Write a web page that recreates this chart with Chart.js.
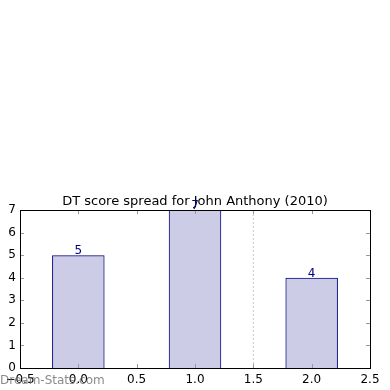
<!DOCTYPE html>
<html>
<head>
<meta charset="utf-8">
<title>DT score spread</title>
<script src="https://cdn.jsdelivr.net/npm/chart.js@4/dist/chart.umd.min.js"></script>
<style>
  html, body { margin: 0; padding: 0; background: #fff; }
  #wrap { width: 390px; height: 390px; }
</style>
</head>
<body>
<div id="wrap"><canvas id="grafica" width="390" height="390"></canvas></div>
<script>
// datos
const posiciones = [0, 1, 2];
const conteos = [5, 7, 4];
const lineaCorte = 1.5;
const titulo = "DT score spread for John Anthony (2010)";
const marcaAgua = "Dream-Stats.com";

const xMin = -0.5, xMax = 2.5, xPaso = 0.5;
const yMin = 0, yMax = 7, yPaso = 1;

const navy = "#000080";
const fuente = "'DejaVu Sans', sans-serif";

// titulo, marco, ticks hacia dentro, etiquetas de valor y marca de agua
const extras = {
  id: "extras",
  afterDraw(chart) {
    const ctx = chart.ctx;
    const a = chart.chartArea;
    const sx = chart.scales.x;
    const sy = chart.scales.y;
    ctx.save();

    // ticks hacia dentro
    ctx.strokeStyle = "#999";
    ctx.lineWidth = 1;
    ctx.beginPath();
    sx.ticks.forEach((t) => {
      const px = Math.round(sx.getPixelForValue(t.value)) + 0.5;
      ctx.moveTo(px, a.bottom);
      ctx.lineTo(px, a.bottom - 4);
      ctx.moveTo(px, a.top);
      ctx.lineTo(px, a.top + 4);
    });
    sy.ticks.forEach((t) => {
      const py = Math.round(sy.getPixelForValue(t.value)) + 0.5;
      ctx.moveTo(a.left, py);
      ctx.lineTo(a.left + 4, py);
      ctx.moveTo(a.right, py);
      ctx.lineTo(a.right - 4, py);
    });
    ctx.stroke();

    // marco
    ctx.strokeStyle = "#000";
    ctx.strokeRect(Math.round(a.left) + 0.5, Math.round(a.top) + 0.5,
      Math.round(a.right - a.left), Math.round(a.bottom - a.top));

    // titulo centrado sobre el area del grafico
    ctx.fillStyle = "#000";
    ctx.font = "13px " + fuente;
    ctx.textAlign = "center";
    ctx.textBaseline = "alphabetic";
    ctx.fillText(titulo, (a.left + a.right) / 2, a.top - 5);

    // etiquetas encima de las barras
    const meta = chart.getDatasetMeta(0);
    ctx.fillStyle = navy;
    ctx.font = "12px " + fuente;
    meta.data.forEach((bar, i) => {
      ctx.fillText(String(conteos[i]), bar.x, bar.y - 1);
    });

    // marca de agua
    ctx.fillStyle = "rgba(110,110,110,0.8)";
    ctx.font = "12px " + fuente;
    ctx.textAlign = "left";
    ctx.textBaseline = "middle";
    ctx.fillText(marcaAgua, 0, 381);

    ctx.restore();
  },
};

const ctx = document.getElementById("grafica").getContext("2d");

new Chart(ctx, {
  type: "bar",
  data: {
    datasets: [
      {
        type: "bar",
        data: posiciones.map((p, i) => ({ x: p, y: conteos[i] })),
        backgroundColor: "rgba(0,0,128,0.2)",
        borderColor: navy,
        borderWidth: 1,
        barPercentage: 0.9,
        categoryPercentage: 1,
      },
      {
        type: "line",
        data: [
          { x: lineaCorte, y: yMin },
          { x: lineaCorte, y: yMax },
        ],
        borderColor: "#c8c8c8",
        borderWidth: 1,
        borderDash: [2, 2],
        pointRadius: 0,
        fill: false,
      },
    ],
  },
  options: {
    responsive: false,
    animation: false,
    devicePixelRatio: 1,
    layout: { padding: { left: 0, right: 20, top: 210, bottom: 0 } },
    plugins: {
      legend: { display: false },
      tooltip: { enabled: false },
      title: { display: false },
    },
    scales: {
      x: {
        type: "linear",
        min: xMin,
        max: xMax,
        offset: false,
        grid: { display: false, drawTicks: false, offset: false },
        border: { display: false },
        afterFit: (scale) => {
          scale.height = 22;
        },
        ticks: {
          stepSize: xPaso,
          autoSkip: false,
          maxRotation: 0,
          padding: 5,
          color: "#000",
          font: { family: fuente, size: 12 },
          callback: (v) => v.toFixed(1).replace("-", "\u2212"),
        },
      },
      y: {
        min: yMin,
        max: yMax,
        grid: { display: false, drawTicks: false },
        border: { display: false },
        afterFit: (scale) => {
          scale.width = 20;
        },
        ticks: {
          stepSize: yPaso,
          padding: 4,
          color: "#000",
          font: { family: fuente, size: 12 },
        },
      },
    },
  },
  plugins: [extras],
});
</script>
</body>
</html>
